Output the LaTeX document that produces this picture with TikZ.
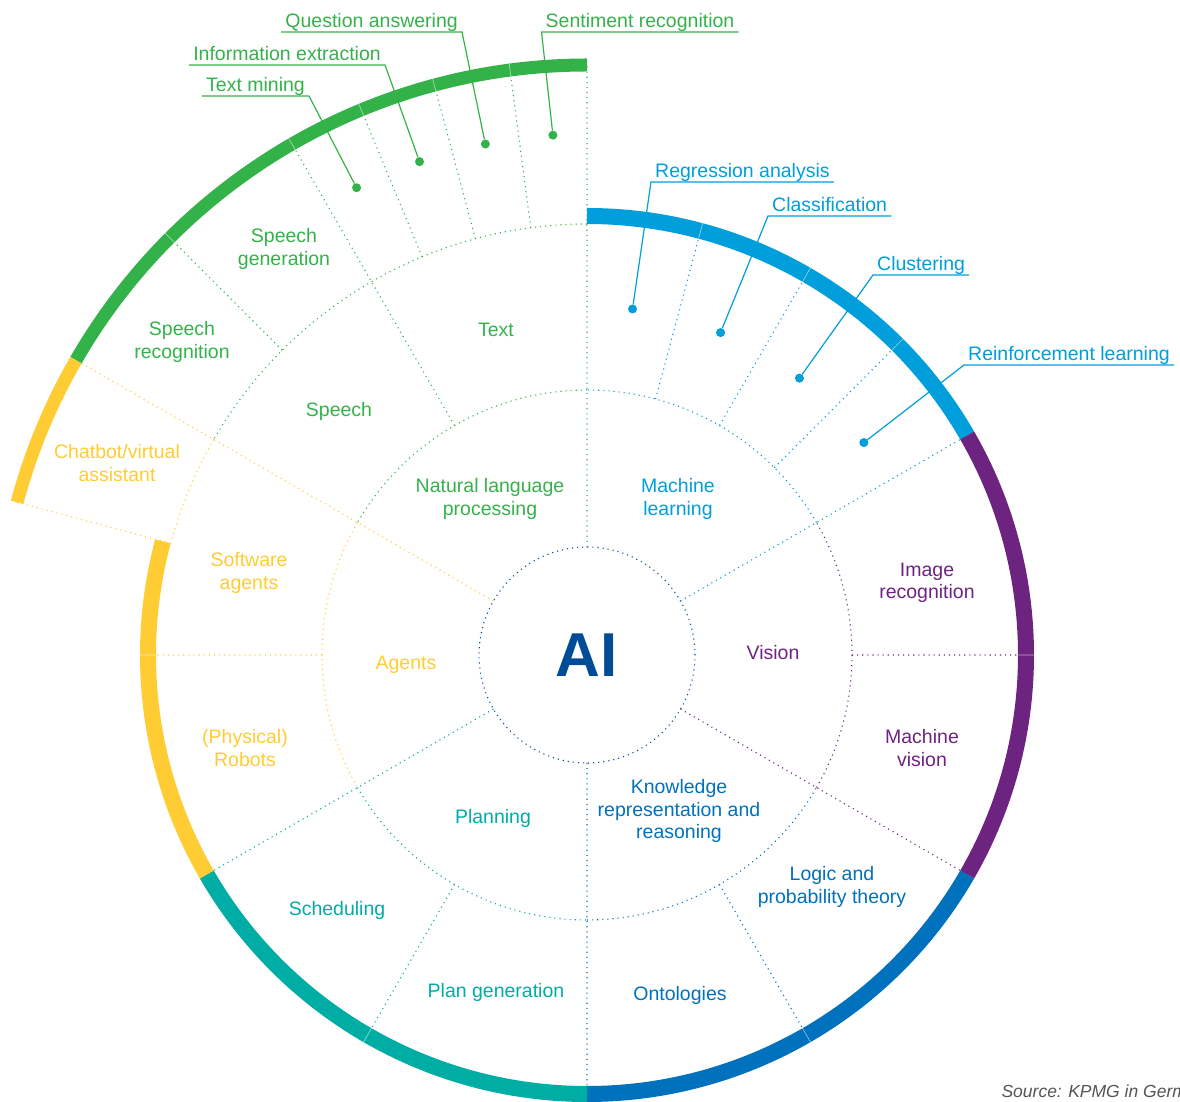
\documentclass[tikz,border=0pt]{standalone}
\usepackage{fontspec}
\setmainfont{Liberation Sans}
\definecolor{nlpgreen}{RGB}{52,178,74}
\definecolor{agentyellow}{RGB}{255,204,51}
\definecolor{mlblue}{RGB}{0,158,219}
\definecolor{visionpurple}{RGB}{109,35,128}
\definecolor{krblue}{RGB}{0,113,188}
\definecolor{planteal}{RGB}{0,173,165}
\definecolor{aiblue}{RGB}{0,76,151}
\definecolor{srcgray}{RGB}{85,85,85}
\begin{document}
\begin{tikzpicture}[x=1pt,y=1pt,
	every node/.style={align=center,font=\fontsize{19.5}{22.5}\selectfont},
	band/.style={line width=16pt},
	thinband/.style={line width=13pt},
	seam/.style={white,line width=0.6pt,opacity=0.6},
	dotline/.style={line width=1.1pt,dash pattern=on 1.1pt off 4pt},
	dot/.style={circle,inner sep=0pt,minimum size=9pt},
	lead/.style={line width=1.2pt},
	tag/.style={inner xsep=4pt,inner ysep=0pt,text height=14.5pt,text depth=4.5pt}]
	\clip (-587,-447) rectangle (593,655);
	
	\draw[dotline,aiblue] (0,0) circle[radius=108];
	\draw[dotline,nlpgreen] (90:265) arc[start angle=90,end angle=150,radius=265]
		(90:431) arc[start angle=90,end angle=150,radius=431]
		(90:108) -- (90:590) (120:265) -- (120:590) (135:431) -- (135:590)
		(97.5:431) -- (97.5:590) (105:431) -- (105:590) (112.5:431) -- (112.5:590);
	\draw[dotline,agentyellow] (150:265) arc[start angle=150,end angle=210,radius=265]
		(150:431) arc[start angle=150,end angle=165,radius=431]
		(150:108) -- (150:590) (165:431) -- (165:590) (180:265) -- (180:439);
	\draw[dotline,planteal] (210:265) arc[start angle=210,end angle=270,radius=265]
		(210:108) -- (210:439) (240:265) -- (240:439);
	\draw[dotline,krblue] (270:265) arc[start angle=270,end angle=330,radius=265]
		(270:108) -- (270:439) (300:265) -- (300:439);
	\draw[dotline,visionpurple] (-30:265) arc[start angle=-30,end angle=30,radius=265]
		(-30:108) -- (-30:439) (0:265) -- (0:439);
	\draw[dotline,mlblue] (30:265) arc[start angle=30,end angle=90,radius=265]
		(30:108) -- (30:439) (45:265) -- (45:439) (60:265) -- (60:439) (75:265) -- (75:439);
	
	\draw[band,mlblue] (30:439) arc[start angle=30,end angle=90,radius=439];
	\draw[band,visionpurple] (-30:439) arc[start angle=-30,end angle=30,radius=439];
	\draw[band,krblue] (270:439) arc[start angle=270,end angle=330,radius=439];
	\draw[band,planteal] (210:439) arc[start angle=210,end angle=270,radius=439];
	\draw[band,agentyellow] (165:439) arc[start angle=165,end angle=210,radius=439];
	\draw[thinband,agentyellow] (150:590) arc[start angle=150,end angle=165,radius=590];
	\draw[thinband,nlpgreen] (90:590) arc[start angle=90,end angle=150,radius=590];
	\draw[seam] (45:431) -- (45:447) (60:431) -- (60:447) (75:431) -- (75:447)
		(0:431) -- (0:447) (180:431) -- (180:447) (240:431) -- (240:447) (300:431) -- (300:447)
		(97.5:583.5) -- (97.5:596.5) (105:583.5) -- (105:596.5) (112.5:583.5) -- (112.5:596.5)
		(120:583.5) -- (120:596.5) (135:583.5) -- (135:596.5);
	
	\node[font=\fontsize{62}{62}\selectfont\bfseries,text=aiblue] (ai) at (0,0) {AI};
	\node[nlpgreen] (nlp) at (-97,156) {Natural language\\processing};
	\node[mlblue] (ml) at (91,156) {Machine\\learning};
	\node[visionpurple] (vision) at (186,2) {Vision};
	\node[krblue] (krr) at (92,-156) {Knowledge\\representation and\\reasoning};
	\node[planteal] (planning) at (-94,-163) {Planning};
	\node[agentyellow] (agents) at (-181,-10) {Agents};
	\node[nlpgreen] (speech) at (-248,244) {Speech};
	\node[nlpgreen] (text) at (-91,325) {Text};
	\node[nlpgreen] (speech-gen) at (-303,406) {Speech\\generation};
	\node[nlpgreen] (speech-rec) at (-405,313) {Speech\\recognition};
	\node[agentyellow] (chatbot) at (-470,192) {Chatbot/virtual\\assistant};
	\node[agentyellow] (software) at (-338,82) {Software\\agents};
	\node[agentyellow] (robots) at (-342,-93) {(Physical)\\Robots};
	\node[planteal] (scheduling) at (-250,-255) {Scheduling};
	\node[planteal] (plan-gen) at (-91,-337) {Plan generation};
	\node[krblue] (ontologies) at (93,-340) {Ontologies};
	\node[krblue] (logic) at (245,-232) {Logic and\\probability theory};
	\node[visionpurple] (machine-vision) at (335,-93) {Machine\\vision};
	\node[visionpurple] (image-rec) at (340,72) {Image\\recognition};
	
	\node[dot,fill=nlpgreen] (text-mining-dot) at (116.25:521) {};
	\node[dot,fill=nlpgreen] (info-extr-dot) at (108.75:521) {};
	\node[dot,fill=nlpgreen] (question-dot) at (101.25:521) {};
	\node[dot,fill=nlpgreen] (sentiment-dot) at (93.75:521) {};
	\node[dot,fill=mlblue] (regression-dot) at (82.5:349) {};
	\node[dot,fill=mlblue] (classif-dot) at (67.5:349) {};
	\node[dot,fill=mlblue] (clustering-dot) at (52.5:349) {};
	\node[dot,fill=mlblue] (reinforce-dot) at (37.5:349) {};
	
	\node[tag,nlpgreen,anchor=south east] (text-mining) at (-278,559) {Text mining};
	\node[tag,nlpgreen,anchor=south east] (info-extr) at (-202,590) {Information extraction};
	\node[tag,nlpgreen,anchor=south east] (question) at (-125,623) {Question answering};
	\node[tag,nlpgreen,anchor=south west] (sentiment) at (-45.5,623) {Sentiment recognition};
	\node[tag,mlblue,anchor=south west] (regression) at (64,473) {Regression analysis};
	\node[tag,mlblue,anchor=south west] (classif) at (181,439) {Classification};
	\node[tag,mlblue,anchor=south west] (clustering) at (286,380) {Clustering};
	\node[tag,mlblue,anchor=south west] (reinforce) at (377,290) {Reinforcement learning};
	
	\draw[lead,nlpgreen] (text-mining.south west) -- (text-mining.south east) -- (text-mining-dot);
	\draw[lead,nlpgreen] (info-extr.south west) -- (info-extr.south east) -- (info-extr-dot);
	\draw[lead,nlpgreen] (question.south west) -- (question.south east) -- (question-dot);
	\draw[lead,nlpgreen] (sentiment.south east) -- (sentiment.south west) -- (sentiment-dot);
	\draw[lead,mlblue] (regression.south east) -- (regression.south west) -- (regression-dot);
	\draw[lead,mlblue] (classif.south east) -- (classif.south west) -- (classif-dot);
	\draw[lead,mlblue] (clustering.south east) -- (clustering.south west) -- (clustering-dot);
	\draw[lead,mlblue] (reinforce.south east) -- (reinforce.south west) -- (reinforce-dot);
	
	\node[anchor=base west,font=\fontsize{17.5}{17.5}\selectfont\itshape,text=srcgray] (source) at (411,-442) {Source: KPMG in Germany};
\end{tikzpicture}
\end{document}
